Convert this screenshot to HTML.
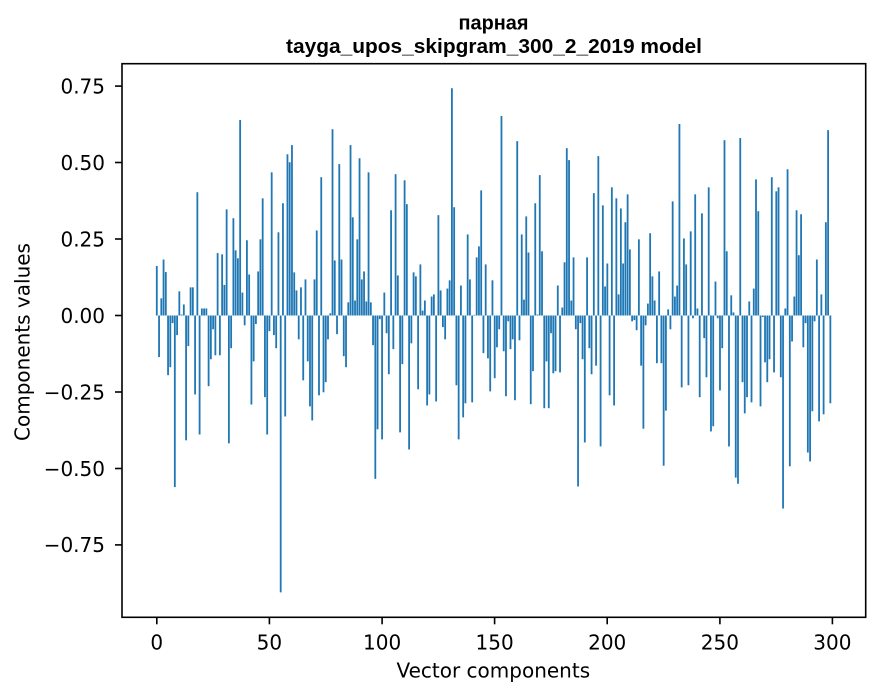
<!DOCTYPE html>
<html><head><meta charset="utf-8"><style>
html,body{margin:0;padding:0;background:#fff;}
svg{display:block;}
.t{font-family:"DejaVu Sans","Liberation Sans",sans-serif;font-size:20px;fill:#000;}
.ttl{font-family:"Liberation Sans","DejaVu Sans",sans-serif;font-weight:bold;font-size:20.5px;fill:#000;}
</style></head><body>
<svg width="880" height="696" viewBox="0 0 880 696" xmlns="http://www.w3.org/2000/svg">
<rect x="0" y="0" width="880" height="696" fill="#fff"/>
<g transform="translate(156.8,315.5) scale(2.2527,-305.9)" fill="#1f77b4">
<rect x="-0.4" y="0" width="0.8" height="0.162"/>
<rect x="0.6" y="-0.136" width="0.8" height="0.136"/>
<rect x="1.6" y="0" width="0.8" height="0.056"/>
<rect x="2.6" y="0" width="0.8" height="0.183"/>
<rect x="3.6" y="0" width="0.8" height="0.142"/>
<rect x="4.6" y="-0.195" width="0.8" height="0.195"/>
<rect x="5.6" y="-0.169" width="0.8" height="0.169"/>
<rect x="6.6" y="-0.025" width="0.8" height="0.025"/>
<rect x="7.6" y="-0.561" width="0.8" height="0.561"/>
<rect x="8.6" y="-0.064" width="0.8" height="0.064"/>
<rect x="9.6" y="0" width="0.8" height="0.079"/>
<rect x="10.6" y="0" width="0.8" height="0.003"/>
<rect x="11.6" y="0" width="0.8" height="0.036"/>
<rect x="12.6" y="-0.408" width="0.8" height="0.408"/>
<rect x="13.6" y="-0.100" width="0.8" height="0.100"/>
<rect x="14.6" y="0" width="0.8" height="0.092"/>
<rect x="15.6" y="0" width="0.8" height="0.092"/>
<rect x="16.6" y="-0.258" width="0.8" height="0.258"/>
<rect x="17.6" y="0" width="0.8" height="0.403"/>
<rect x="18.6" y="-0.389" width="0.8" height="0.389"/>
<rect x="19.6" y="0" width="0.8" height="0.023"/>
<rect x="20.6" y="0" width="0.8" height="0.023"/>
<rect x="21.6" y="0" width="0.8" height="0.023"/>
<rect x="22.6" y="-0.231" width="0.8" height="0.231"/>
<rect x="23.6" y="-0.143" width="0.8" height="0.143"/>
<rect x="24.6" y="-0.045" width="0.8" height="0.045"/>
<rect x="25.6" y="-0.130" width="0.8" height="0.130"/>
<rect x="26.6" y="0" width="0.8" height="0.204"/>
<rect x="27.6" y="-0.130" width="0.8" height="0.130"/>
<rect x="28.6" y="0" width="0.8" height="0.200"/>
<rect x="29.6" y="0" width="0.8" height="0.100"/>
<rect x="30.6" y="0" width="0.8" height="0.347"/>
<rect x="31.6" y="-0.418" width="0.8" height="0.418"/>
<rect x="32.6" y="-0.107" width="0.8" height="0.107"/>
<rect x="33.6" y="0" width="0.8" height="0.318"/>
<rect x="34.6" y="0" width="0.8" height="0.213"/>
<rect x="35.6" y="0" width="0.8" height="0.187"/>
<rect x="36.6" y="0" width="0.8" height="0.639"/>
<rect x="37.6" y="0" width="0.8" height="0.075"/>
<rect x="38.6" y="-0.032" width="0.8" height="0.032"/>
<rect x="39.6" y="0" width="0.8" height="0.246"/>
<rect x="40.6" y="0" width="0.8" height="0.134"/>
<rect x="41.6" y="-0.291" width="0.8" height="0.291"/>
<rect x="42.6" y="-0.150" width="0.8" height="0.150"/>
<rect x="43.6" y="-0.028" width="0.8" height="0.028"/>
<rect x="44.6" y="0" width="0.8" height="0.144"/>
<rect x="45.6" y="0" width="0.8" height="0.249"/>
<rect x="46.6" y="0" width="0.8" height="0.383"/>
<rect x="47.6" y="-0.267" width="0.8" height="0.267"/>
<rect x="48.6" y="-0.389" width="0.8" height="0.389"/>
<rect x="49.6" y="-0.051" width="0.8" height="0.051"/>
<rect x="50.6" y="0" width="0.8" height="0.468"/>
<rect x="51.6" y="-0.064" width="0.8" height="0.064"/>
<rect x="52.6" y="-0.107" width="0.8" height="0.107"/>
<rect x="53.6" y="0" width="0.8" height="0.272"/>
<rect x="54.6" y="-0.905" width="0.8" height="0.905"/>
<rect x="55.6" y="0" width="0.8" height="0.367"/>
<rect x="56.6" y="-0.330" width="0.8" height="0.330"/>
<rect x="57.6" y="0" width="0.8" height="0.527"/>
<rect x="58.6" y="0" width="0.8" height="0.501"/>
<rect x="59.6" y="0" width="0.8" height="0.557"/>
<rect x="60.6" y="0" width="0.8" height="0.141"/>
<rect x="61.6" y="0" width="0.8" height="0.082"/>
<rect x="62.6" y="-0.078" width="0.8" height="0.078"/>
<rect x="63.6" y="0" width="0.8" height="0.092"/>
<rect x="64.6" y="-0.212" width="0.8" height="0.212"/>
<rect x="65.6" y="0" width="0.8" height="0.118"/>
<rect x="66.6" y="-0.150" width="0.8" height="0.150"/>
<rect x="67.6" y="-0.297" width="0.8" height="0.297"/>
<rect x="68.6" y="-0.343" width="0.8" height="0.343"/>
<rect x="69.6" y="0" width="0.8" height="0.118"/>
<rect x="70.6" y="0" width="0.8" height="0.278"/>
<rect x="71.6" y="-0.261" width="0.8" height="0.261"/>
<rect x="72.6" y="0" width="0.8" height="0.452"/>
<rect x="73.6" y="-0.251" width="0.8" height="0.251"/>
<rect x="74.6" y="-0.218" width="0.8" height="0.218"/>
<rect x="75.6" y="-0.078" width="0.8" height="0.078"/>
<rect x="76.6" y="0" width="0.8" height="0.007"/>
<rect x="77.6" y="0" width="0.8" height="0.609"/>
<rect x="78.6" y="0" width="0.8" height="0.180"/>
<rect x="79.6" y="-0.061" width="0.8" height="0.061"/>
<rect x="80.6" y="0" width="0.8" height="0.495"/>
<rect x="81.6" y="0" width="0.8" height="0.183"/>
<rect x="82.6" y="-0.133" width="0.8" height="0.133"/>
<rect x="83.6" y="-0.169" width="0.8" height="0.169"/>
<rect x="84.6" y="0" width="0.8" height="0.043"/>
<rect x="85.6" y="0" width="0.8" height="0.557"/>
<rect x="86.6" y="0" width="0.8" height="0.321"/>
<rect x="87.6" y="0" width="0.8" height="0.049"/>
<rect x="88.6" y="0" width="0.8" height="0.249"/>
<rect x="89.6" y="0" width="0.8" height="0.514"/>
<rect x="90.6" y="0" width="0.8" height="0.118"/>
<rect x="91.6" y="0" width="0.8" height="0.144"/>
<rect x="92.6" y="0" width="0.8" height="0.046"/>
<rect x="93.6" y="0" width="0.8" height="0.468"/>
<rect x="94.6" y="0" width="0.8" height="0.043"/>
<rect x="95.6" y="-0.097" width="0.8" height="0.097"/>
<rect x="96.6" y="-0.534" width="0.8" height="0.534"/>
<rect x="97.6" y="-0.372" width="0.8" height="0.372"/>
<rect x="98.6" y="-0.012" width="0.8" height="0.012"/>
<rect x="99.6" y="-0.405" width="0.8" height="0.405"/>
<rect x="100.6" y="0" width="0.8" height="0.075"/>
<rect x="101.6" y="-0.058" width="0.8" height="0.058"/>
<rect x="102.6" y="-0.192" width="0.8" height="0.192"/>
<rect x="103.6" y="0" width="0.8" height="0.344"/>
<rect x="104.6" y="-0.110" width="0.8" height="0.110"/>
<rect x="105.6" y="0" width="0.8" height="0.462"/>
<rect x="106.6" y="0" width="0.8" height="0.131"/>
<rect x="107.6" y="-0.382" width="0.8" height="0.382"/>
<rect x="108.6" y="-0.159" width="0.8" height="0.159"/>
<rect x="109.6" y="0" width="0.8" height="0.442"/>
<rect x="110.6" y="0" width="0.8" height="0.364"/>
<rect x="111.6" y="-0.438" width="0.8" height="0.438"/>
<rect x="112.6" y="-0.091" width="0.8" height="0.091"/>
<rect x="113.6" y="0" width="0.8" height="0.141"/>
<rect x="114.6" y="0" width="0.8" height="0.128"/>
<rect x="115.6" y="-0.241" width="0.8" height="0.241"/>
<rect x="116.6" y="0" width="0.8" height="0.167"/>
<rect x="117.6" y="0" width="0.8" height="0.016"/>
<rect x="118.6" y="0" width="0.8" height="0.049"/>
<rect x="119.6" y="-0.294" width="0.8" height="0.294"/>
<rect x="120.6" y="-0.258" width="0.8" height="0.258"/>
<rect x="121.6" y="0" width="0.8" height="0.062"/>
<rect x="122.6" y="0" width="0.8" height="0.069"/>
<rect x="123.6" y="-0.281" width="0.8" height="0.281"/>
<rect x="124.6" y="0" width="0.8" height="0.328"/>
<rect x="125.6" y="0" width="0.8" height="0.082"/>
<rect x="126.6" y="-0.038" width="0.8" height="0.038"/>
<rect x="127.6" y="-0.078" width="0.8" height="0.078"/>
<rect x="128.6" y="0" width="0.8" height="0.088"/>
<rect x="129.6" y="0" width="0.8" height="0.115"/>
<rect x="130.6" y="0" width="0.8" height="0.743"/>
<rect x="131.6" y="0" width="0.8" height="0.354"/>
<rect x="132.6" y="-0.228" width="0.8" height="0.228"/>
<rect x="133.6" y="-0.405" width="0.8" height="0.405"/>
<rect x="134.6" y="0" width="0.8" height="0.098"/>
<rect x="135.6" y="-0.333" width="0.8" height="0.333"/>
<rect x="136.6" y="-0.287" width="0.8" height="0.287"/>
<rect x="137.6" y="0" width="0.8" height="0.265"/>
<rect x="138.6" y="0" width="0.8" height="0.118"/>
<rect x="139.6" y="-0.284" width="0.8" height="0.284"/>
<rect x="140.6" y="0" width="0.8" height="0.002"/>
<rect x="141.6" y="0" width="0.8" height="0.190"/>
<rect x="142.6" y="0" width="0.8" height="0.226"/>
<rect x="143.6" y="0" width="0.8" height="0.409"/>
<rect x="144.6" y="-0.123" width="0.8" height="0.123"/>
<rect x="145.6" y="0" width="0.8" height="0.167"/>
<rect x="146.6" y="-0.140" width="0.8" height="0.140"/>
<rect x="147.6" y="-0.248" width="0.8" height="0.248"/>
<rect x="148.6" y="0" width="0.8" height="0.115"/>
<rect x="149.6" y="-0.205" width="0.8" height="0.205"/>
<rect x="150.6" y="-0.104" width="0.8" height="0.104"/>
<rect x="151.6" y="-0.045" width="0.8" height="0.045"/>
<rect x="152.6" y="0" width="0.8" height="0.652"/>
<rect x="153.6" y="-0.117" width="0.8" height="0.117"/>
<rect x="154.6" y="-0.264" width="0.8" height="0.264"/>
<rect x="155.6" y="-0.019" width="0.8" height="0.019"/>
<rect x="156.6" y="-0.110" width="0.8" height="0.110"/>
<rect x="157.6" y="-0.078" width="0.8" height="0.078"/>
<rect x="158.6" y="-0.277" width="0.8" height="0.277"/>
<rect x="159.6" y="0" width="0.8" height="0.570"/>
<rect x="160.6" y="-0.081" width="0.8" height="0.081"/>
<rect x="161.6" y="0" width="0.8" height="0.265"/>
<rect x="162.6" y="0" width="0.8" height="0.052"/>
<rect x="163.6" y="0" width="0.8" height="0.324"/>
<rect x="164.6" y="0" width="0.8" height="0.206"/>
<rect x="165.6" y="-0.290" width="0.8" height="0.290"/>
<rect x="166.6" y="-0.182" width="0.8" height="0.182"/>
<rect x="167.6" y="0" width="0.8" height="0.367"/>
<rect x="168.6" y="0" width="0.8" height="0.003"/>
<rect x="169.6" y="0" width="0.8" height="0.459"/>
<rect x="170.6" y="0" width="0.8" height="0.210"/>
<rect x="171.6" y="-0.303" width="0.8" height="0.303"/>
<rect x="172.6" y="-0.150" width="0.8" height="0.150"/>
<rect x="173.6" y="-0.303" width="0.8" height="0.303"/>
<rect x="174.6" y="-0.058" width="0.8" height="0.058"/>
<rect x="175.6" y="-0.189" width="0.8" height="0.189"/>
<rect x="176.6" y="-0.182" width="0.8" height="0.182"/>
<rect x="177.6" y="0" width="0.8" height="0.098"/>
<rect x="178.6" y="-0.186" width="0.8" height="0.186"/>
<rect x="179.6" y="0" width="0.8" height="0.026"/>
<rect x="180.6" y="0" width="0.8" height="0.174"/>
<rect x="181.6" y="0" width="0.8" height="0.547"/>
<rect x="182.6" y="0" width="0.8" height="0.508"/>
<rect x="183.6" y="0" width="0.8" height="0.049"/>
<rect x="184.6" y="0" width="0.8" height="0.190"/>
<rect x="185.6" y="-0.045" width="0.8" height="0.045"/>
<rect x="186.6" y="-0.559" width="0.8" height="0.559"/>
<rect x="187.6" y="-0.025" width="0.8" height="0.025"/>
<rect x="188.6" y="-0.143" width="0.8" height="0.143"/>
<rect x="189.6" y="-0.415" width="0.8" height="0.415"/>
<rect x="190.6" y="0" width="0.8" height="0.190"/>
<rect x="191.6" y="-0.107" width="0.8" height="0.107"/>
<rect x="192.6" y="-0.192" width="0.8" height="0.192"/>
<rect x="193.6" y="0" width="0.8" height="0.400"/>
<rect x="194.6" y="-0.164" width="0.8" height="0.164"/>
<rect x="195.6" y="0" width="0.8" height="0.521"/>
<rect x="196.6" y="-0.428" width="0.8" height="0.428"/>
<rect x="197.6" y="0" width="0.8" height="0.360"/>
<rect x="198.6" y="0" width="0.8" height="0.095"/>
<rect x="199.6" y="0" width="0.8" height="0.170"/>
<rect x="200.6" y="-0.261" width="0.8" height="0.261"/>
<rect x="201.6" y="0" width="0.8" height="0.419"/>
<rect x="202.6" y="-0.294" width="0.8" height="0.294"/>
<rect x="203.6" y="0" width="0.8" height="0.383"/>
<rect x="204.6" y="0" width="0.8" height="0.069"/>
<rect x="205.6" y="0" width="0.8" height="0.350"/>
<rect x="206.6" y="0" width="0.8" height="0.170"/>
<rect x="207.6" y="0" width="0.8" height="0.305"/>
<rect x="208.6" y="0" width="0.8" height="0.396"/>
<rect x="209.6" y="0" width="0.8" height="0.216"/>
<rect x="210.6" y="-0.019" width="0.8" height="0.019"/>
<rect x="211.6" y="-0.015" width="0.8" height="0.015"/>
<rect x="212.6" y="-0.048" width="0.8" height="0.048"/>
<rect x="213.6" y="0" width="0.8" height="0.249"/>
<rect x="214.6" y="-0.164" width="0.8" height="0.164"/>
<rect x="215.6" y="-0.370" width="0.8" height="0.370"/>
<rect x="216.6" y="-0.032" width="0.8" height="0.032"/>
<rect x="217.6" y="0" width="0.8" height="0.039"/>
<rect x="218.6" y="0" width="0.8" height="0.269"/>
<rect x="219.6" y="0" width="0.8" height="0.128"/>
<rect x="220.6" y="0" width="0.8" height="0.049"/>
<rect x="221.6" y="-0.156" width="0.8" height="0.156"/>
<rect x="222.6" y="0" width="0.8" height="0.144"/>
<rect x="223.6" y="-0.156" width="0.8" height="0.156"/>
<rect x="224.6" y="-0.491" width="0.8" height="0.491"/>
<rect x="225.6" y="-0.311" width="0.8" height="0.311"/>
<rect x="226.6" y="0" width="0.8" height="0.020"/>
<rect x="227.6" y="-0.045" width="0.8" height="0.045"/>
<rect x="228.6" y="0" width="0.8" height="0.373"/>
<rect x="229.6" y="0" width="0.8" height="0.062"/>
<rect x="230.6" y="0" width="0.8" height="0.098"/>
<rect x="231.6" y="0" width="0.8" height="0.626"/>
<rect x="232.6" y="-0.235" width="0.8" height="0.235"/>
<rect x="233.6" y="0" width="0.8" height="0.252"/>
<rect x="234.6" y="0" width="0.8" height="0.167"/>
<rect x="235.6" y="-0.228" width="0.8" height="0.228"/>
<rect x="236.6" y="0" width="0.8" height="0.275"/>
<rect x="237.6" y="-0.009" width="0.8" height="0.009"/>
<rect x="238.6" y="0" width="0.8" height="0.396"/>
<rect x="239.6" y="0" width="0.8" height="0.023"/>
<rect x="240.6" y="-0.267" width="0.8" height="0.267"/>
<rect x="241.6" y="0" width="0.8" height="0.334"/>
<rect x="242.6" y="-0.074" width="0.8" height="0.074"/>
<rect x="243.6" y="-0.202" width="0.8" height="0.202"/>
<rect x="244.6" y="0" width="0.8" height="0.419"/>
<rect x="245.6" y="-0.379" width="0.8" height="0.379"/>
<rect x="246.6" y="-0.362" width="0.8" height="0.362"/>
<rect x="247.6" y="0" width="0.8" height="0.111"/>
<rect x="248.6" y="-0.009" width="0.8" height="0.009"/>
<rect x="249.6" y="-0.245" width="0.8" height="0.245"/>
<rect x="250.6" y="-0.107" width="0.8" height="0.107"/>
<rect x="251.6" y="0" width="0.8" height="0.573"/>
<rect x="252.6" y="0" width="0.8" height="0.210"/>
<rect x="253.6" y="-0.428" width="0.8" height="0.428"/>
<rect x="254.6" y="0" width="0.8" height="0.066"/>
<rect x="255.6" y="0" width="0.8" height="0.010"/>
<rect x="256.6" y="-0.530" width="0.8" height="0.530"/>
<rect x="257.6" y="-0.550" width="0.8" height="0.550"/>
<rect x="258.6" y="0" width="0.8" height="0.580"/>
<rect x="259.6" y="-0.218" width="0.8" height="0.218"/>
<rect x="260.6" y="-0.320" width="0.8" height="0.320"/>
<rect x="261.6" y="-0.267" width="0.8" height="0.267"/>
<rect x="262.6" y="0" width="0.8" height="0.046"/>
<rect x="263.6" y="-0.284" width="0.8" height="0.284"/>
<rect x="264.6" y="0" width="0.8" height="0.088"/>
<rect x="265.6" y="0" width="0.8" height="0.445"/>
<rect x="266.6" y="0" width="0.8" height="0.341"/>
<rect x="267.6" y="-0.297" width="0.8" height="0.297"/>
<rect x="268.6" y="-0.005" width="0.8" height="0.005"/>
<rect x="269.6" y="-0.153" width="0.8" height="0.153"/>
<rect x="270.6" y="-0.218" width="0.8" height="0.218"/>
<rect x="271.6" y="-0.143" width="0.8" height="0.143"/>
<rect x="272.6" y="0" width="0.8" height="0.452"/>
<rect x="273.6" y="-0.186" width="0.8" height="0.186"/>
<rect x="274.6" y="0" width="0.8" height="0.406"/>
<rect x="275.6" y="0" width="0.8" height="0.419"/>
<rect x="276.6" y="-0.202" width="0.8" height="0.202"/>
<rect x="277.6" y="-0.631" width="0.8" height="0.631"/>
<rect x="278.6" y="0" width="0.8" height="0.023"/>
<rect x="279.6" y="0" width="0.8" height="0.478"/>
<rect x="280.6" y="-0.493" width="0.8" height="0.493"/>
<rect x="281.6" y="-0.085" width="0.8" height="0.085"/>
<rect x="282.6" y="0" width="0.8" height="0.062"/>
<rect x="283.6" y="0" width="0.8" height="0.344"/>
<rect x="284.6" y="0" width="0.8" height="0.197"/>
<rect x="285.6" y="0" width="0.8" height="0.331"/>
<rect x="286.6" y="-0.104" width="0.8" height="0.104"/>
<rect x="287.6" y="-0.025" width="0.8" height="0.025"/>
<rect x="288.6" y="-0.448" width="0.8" height="0.448"/>
<rect x="289.6" y="-0.477" width="0.8" height="0.477"/>
<rect x="290.6" y="-0.313" width="0.8" height="0.313"/>
<rect x="291.6" y="-0.019" width="0.8" height="0.019"/>
<rect x="292.6" y="0" width="0.8" height="0.183"/>
<rect x="293.6" y="-0.346" width="0.8" height="0.346"/>
<rect x="294.6" y="0" width="0.8" height="0.069"/>
<rect x="295.6" y="-0.323" width="0.8" height="0.323"/>
<rect x="296.6" y="0" width="0.8" height="0.305"/>
<rect x="297.6" y="0" width="0.8" height="0.606"/>
<rect x="298.6" y="-0.287" width="0.8" height="0.287"/>
</g>
<rect x="122" y="63.7" width="743.7" height="553.6" fill="none" stroke="#000" stroke-width="1.6"/>
<g stroke="#000" stroke-width="1.6">
<line x1="115" y1="86.1" x2="122" y2="86.1"/>
<line x1="115" y1="162.5" x2="122" y2="162.5"/>
<line x1="115" y1="239" x2="122" y2="239"/>
<line x1="115" y1="315.5" x2="122" y2="315.5"/>
<line x1="115" y1="392" x2="122" y2="392"/>
<line x1="115" y1="468.5" x2="122" y2="468.5"/>
<line x1="115" y1="544.9" x2="122" y2="544.9"/>
<line x1="156.8" y1="617.3" x2="156.8" y2="624.3"/>
<line x1="269.4" y1="617.3" x2="269.4" y2="624.3"/>
<line x1="382.1" y1="617.3" x2="382.1" y2="624.3"/>
<line x1="494.6" y1="617.3" x2="494.6" y2="624.3"/>
<line x1="607.2" y1="617.3" x2="607.2" y2="624.3"/>
<line x1="719.9" y1="617.3" x2="719.9" y2="624.3"/>
<line x1="832.4" y1="617.3" x2="832.4" y2="624.3"/>
</g>
<g class="t" text-anchor="end">
<text x="105" y="93.4">0.75</text>
<text x="105" y="169.8">0.50</text>
<text x="105" y="246.3">0.25</text>
<text x="105" y="322.8">0.00</text>
<text x="105" y="399.3">−0.25</text>
<text x="105" y="475.8">−0.50</text>
<text x="105" y="552.2">−0.75</text>
</g>
<g class="t" text-anchor="middle">
<text x="156.8" y="649.5">0</text>
<text x="269.4" y="649.5">50</text>
<text x="382.1" y="649.5">100</text>
<text x="494.6" y="649.5">150</text>
<text x="607.2" y="649.5">200</text>
<text x="719.9" y="649.5">250</text>
<text x="832.4" y="649.5">300</text>
<text x="493.3" y="677.5">Vector components</text>
<text transform="translate(29.5,342) rotate(-90)" x="0" y="0">Components values</text>
</g>
<g class="ttl" text-anchor="middle">
<text x="493.5" y="29.5" textLength="70" lengthAdjust="spacingAndGlyphs">парная</text>
<text x="494" y="53" textLength="416" lengthAdjust="spacingAndGlyphs">tayga_upos_skipgram_300_2_2019 model</text>
</g>
</svg>
</body></html>
